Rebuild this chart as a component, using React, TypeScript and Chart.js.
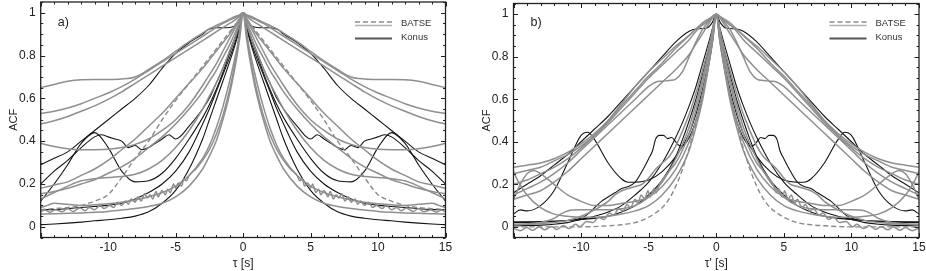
import React, { useEffect, useRef } from 'react';
import { Chart, registerables } from 'chart.js';

Chart.register(...registerables);

type Pair = [number, number];

// ---------- axis tick values ----------
const X_MIN = -15;
const X_MAX = 15;
const X_LABELS = [-10, -5, 0, 5, 10, 15];
const Y_MIN = -0.05;
const Y_MAX = 1.05;
const Y_LABELS = [0, 0.2, 0.4, 0.6, 0.8, 1];

// ---------- panel a) (values for tau >= 0; ACF is symmetric) ----------
const A_G1: Pair[] = [[0,1],[0.25,0.99],[0.5,0.985],[1,0.97],[1.5,0.955],[2,0.94],[2.5,0.925],[3,0.905],[4,0.865],[5,0.82],[6,0.775],[7,0.735],[8,0.7],[9,0.69],[10,0.688],[11,0.688],[12,0.687],[13,0.68],[14,0.665],[15,0.65]];
const A_G2: Pair[] = [[0,1],[0.25,0.99],[0.5,0.98],[1,0.965],[1.5,0.95],[2,0.93],[2.5,0.91],[3,0.89],[4,0.85],[5,0.81],[6,0.77],[7,0.73],[8,0.69],[9,0.655],[10,0.625],[11,0.6],[12,0.575],[13,0.555],[14,0.54],[15,0.53]];
const A_G3: Pair[] = [[0,1],[0.25,0.985],[0.5,0.97],[1,0.95],[1.5,0.93],[2,0.91],[2.5,0.89],[3,0.87],[4,0.83],[5,0.79],[6,0.75],[7,0.71],[8,0.67],[9,0.63],[10,0.595],[11,0.565],[12,0.54],[13,0.515],[14,0.495],[15,0.48]];
const A_G4: Pair[] = [[0,1],[0.25,0.97],[0.5,0.94],[1,0.88],[1.5,0.82],[2,0.76],[2.5,0.71],[3,0.66],[4,0.57],[5,0.5],[6,0.45],[7,0.41],[8,0.385],[9,0.37],[10,0.362],[11,0.36],[12,0.36],[13,0.365],[14,0.375],[15,0.39]];
const A_G5: Pair[] = [[0,1],[0.25,0.975],[0.5,0.95],[1,0.9],[1.5,0.86],[2,0.82],[2.5,0.78],[3,0.74],[4,0.67],[5,0.6],[6,0.53],[7,0.47],[8,0.41],[9,0.36],[10,0.31],[11,0.27],[12,0.24],[13,0.21],[14,0.195],[15,0.18]];
const A_G6: Pair[] = [[0,1],[0.25,0.95],[0.5,0.9],[1,0.82],[1.5,0.74],[2,0.67],[2.5,0.61],[3,0.55],[4,0.45],[5,0.37],[6,0.31],[7,0.27],[8,0.245],[9,0.235],[10,0.23],[11,0.225],[12,0.215],[13,0.19],[14,0.16],[15,0.13]];
const A_G7: Pair[] = [[0,1],[0.25,0.96],[0.5,0.92],[1,0.85],[1.5,0.79],[2,0.73],[2.5,0.68],[3,0.63],[4,0.55],[5,0.48],[6,0.42],[7,0.37],[8,0.32],[9,0.28],[10,0.25],[11,0.22],[12,0.2],[13,0.18],[14,0.165],[15,0.155]];
const A_G8: Pair[] = [[0,1],[0.25,0.9],[0.5,0.82],[1,0.68],[1.5,0.56],[2,0.46],[2.5,0.38],[3,0.32],[4,0.24],[5,0.19],[6,0.16],[7,0.14],[8,0.125],[9,0.115],[10,0.108],[11,0.103],[12,0.1],[13,0.105],[14,0.11],[14.5,0.1],[15,0.09]];
const A_G9: Pair[] = [[0,1],[0.25,0.88],[0.5,0.78],[1,0.62],[1.5,0.5],[2,0.4],[2.5,0.33],[3,0.27],[4,0.19],[5,0.14],[6,0.11],[7,0.095],[8,0.085],[9,0.078],[10,0.072],[11,0.068],[12,0.065],[13,0.063],[14,0.061],[15,0.06]];
const A_N1: Pair[] = [[0,1],[0.5,0.8],[1,0.64],[1.5,0.52],[2,0.43],[2.5,0.36],[3,0.31],[3.5,0.27],[4,0.24],[4.2,0.215],[4.4,0.225],[4.55,0.19],[4.8,0.205],[5,0.18],[5.15,0.2],[5.4,0.16],[5.6,0.175],[5.75,0.15],[6,0.17],[6.3,0.14],[6.45,0.165],[6.7,0.13],[6.9,0.15],[7.1,0.135],[7.3,0.155],[7.55,0.12],[7.8,0.14],[8,0.115],[8.3,0.13],[8.5,0.105],[8.7,0.12],[9,0.1],[9.3,0.115],[9.6,0.09],[9.9,0.1],[10.3,0.085],[10.6,0.1],[11,0.08],[11.4,0.09],[11.7,0.075],[12.1,0.088],[12.6,0.072],[13,0.085],[13.4,0.07],[13.9,0.08],[14.3,0.068],[14.7,0.078],[15,0.07]];
const A_D1: Pair[] = [[0,1],[0.25,0.97],[0.5,0.95],[1,0.91],[1.5,0.87],[2,0.83],[2.5,0.79],[3,0.75],[4,0.67],[5,0.59],[6,0.5],[7,0.4],[8,0.32],[9,0.23],[10,0.15],[11,0.12],[12,0.1],[13,0.09],[14,0.085],[15,0.08]];
const A_K1: Pair[] = [[0,1],[0.25,0.93],[0.5,0.87],[1,0.77],[1.5,0.68],[2,0.59],[2.5,0.5],[3,0.41],[4,0.27],[5,0.17],[6,0.11],[7,0.07],[8,0.05],[9,0.04],[10,0.033],[11,0.028],[12,0.022],[13,0.017],[14,0.013],[15,0.01]];
const A_K2: Pair[] = [[0,1],[0.25,0.94],[0.5,0.88],[1,0.79],[1.5,0.71],[2,0.63],[2.5,0.55],[3,0.48],[4,0.35],[5,0.26],[6,0.2],[7,0.16],[8,0.13],[9,0.11],[10,0.1],[11,0.095],[12,0.09],[13,0.085],[14,0.08],[15,0.08]];
const A_K3: Pair[] = [[0,1],[0.25,0.95],[0.5,0.9],[1,0.81],[1.5,0.72],[2,0.64],[2.5,0.57],[3,0.51],[4,0.41],[5,0.32],[6,0.25],[7,0.215],[8,0.21],[9,0.26],[10,0.37],[11,0.44],[12,0.39],[13,0.29],[14,0.2],[15,0.12]];
const A_K4: Pair[] = [[0,1],[0.25,0.95],[0.5,0.9],[1,0.82],[1.5,0.74],[2,0.67],[2.5,0.6],[3,0.55],[4,0.47],[5,0.41],[5.5,0.43],[6,0.41],[6.5,0.39],[7,0.37],[7.5,0.36],[8,0.38],[8.5,0.37],[9,0.4],[9.5,0.41],[10,0.42],[10.5,0.43],[11,0.42],[12,0.37],[13,0.31],[14,0.26],[15,0.2]];
const A_K5: Pair[] = [[0,1],[0.3,0.96],[0.7,0.935],[1.2,0.93],[2,0.93],[2.6,0.92],[3,0.9],[4,0.86],[5,0.81],[6,0.74],[7,0.66],[8,0.6],[9,0.55],[10,0.5],[11,0.45],[12,0.4],[13,0.35],[14,0.32],[15,0.29]];

// ---------- panel b) ----------
const B_G1: Pair[] = [[0,1],[0.25,0.99],[0.5,0.98],[1,0.96],[1.5,0.93],[2,0.9],[3,0.84],[4,0.77],[5,0.71],[6,0.64],[7,0.57],[8,0.5],[9,0.44],[10,0.39],[11,0.35],[12,0.32],[13,0.3],[14,0.29],[15,0.28]];
const B_G2: Pair[] = [[0,1],[0.25,0.99],[0.5,0.975],[1,0.95],[1.5,0.92],[2,0.88],[3,0.82],[4,0.76],[5,0.7],[6,0.63],[7,0.56],[8,0.49],[9,0.43],[10,0.38],[11,0.34],[12,0.31],[13,0.28],[14,0.265],[15,0.25]];
const B_G3: Pair[] = [[0,1],[0.25,0.99],[0.5,0.975],[1,0.95],[1.5,0.93],[2,0.9],[3,0.85],[4,0.79],[5,0.73],[6,0.66],[7,0.58],[8,0.5],[9,0.43],[10,0.37],[11,0.32],[12,0.28],[13,0.25],[14,0.22],[15,0.2]];
const B_G4: Pair[] = [[0,1],[0.25,0.99],[0.5,0.97],[1,0.93],[1.5,0.87],[2,0.8],[2.5,0.73],[3,0.695],[3.5,0.688],[4,0.685],[4.5,0.68],[5,0.66],[6,0.6],[7,0.54],[8,0.48],[9,0.42],[10,0.36],[11,0.3],[12,0.25],[13,0.21],[14,0.18],[15,0.15]];
const B_G5: Pair[] = [[0,1],[0.25,0.985],[0.5,0.96],[1,0.91],[1.5,0.86],[2,0.81],[3,0.74],[4,0.68],[5,0.62],[6,0.56],[7,0.5],[8,0.44],[9,0.38],[10,0.32],[11,0.26],[12,0.21],[13,0.17],[14,0.15],[15,0.13]];
const B_G6: Pair[] = [[0,1],[0.25,0.93],[0.5,0.86],[1,0.74],[1.5,0.63],[2,0.53],[2.5,0.45],[3,0.38],[3.5,0.33],[4,0.3],[4.5,0.27],[5,0.23],[5.5,0.2],[6,0.19],[6.5,0.18],[7,0.17],[7.5,0.15],[8,0.12],[9,0.08],[10,0.05],[11,0.03],[12,0.02],[13,0.015],[15,0.01]];
const B_G7: Pair[] = [[0,1],[0.25,0.9],[0.5,0.8],[1,0.63],[1.5,0.5],[2,0.4],[3,0.27],[4,0.19],[5,0.14],[6,0.12],[7,0.11],[8,0.1],[9,0.1],[10,0.12],[11,0.15],[12,0.2],[13,0.25],[13.5,0.265],[14,0.25],[14.5,0.2],[15,0.13]];
const B_G8: Pair[] = [[0,1],[0.25,0.88],[0.5,0.78],[1,0.6],[1.5,0.47],[2,0.36],[3,0.23],[4,0.15],[5,0.1],[6,0.075],[7,0.06],[8,0.05],[9,0.045],[10,0.045],[11,0.05],[12,0.06],[13,0.09],[14,0.15],[14.7,0.22],[15,0.26]];
const B_G9: Pair[] = [[0,1],[0.25,0.92],[0.5,0.84],[1,0.7],[1.5,0.58],[2,0.47],[3,0.32],[4,0.21],[5,0.14],[6,0.1],[7,0.085],[8,0.08],[9,0.08],[10,0.08],[11,0.075],[11.5,0.06],[12,0.04],[13,0.02],[15,0.01]];
const B_N1: Pair[] = [[0,1],[0.5,0.83],[1,0.68],[1.5,0.55],[2,0.44],[2.5,0.36],[3,0.3],[3.5,0.26],[4,0.22],[4.2,0.2],[4.45,0.16],[4.6,0.18],[4.9,0.14],[5.05,0.17],[5.3,0.13],[5.55,0.15],[5.8,0.11],[6.0,0.13],[6.35,0.09],[6.6,0.105],[6.9,0.075],[7.2,0.085],[7.6,0.055],[7.9,0.065],[8.3,0.035],[8.7,0.045],[9.1,0.02],[9.6,0.025],[10.1,0.0],[10.4,0.012],[10.9,-0.008],[11.3,0.006],[11.8,-0.012],[12.2,0.002],[12.7,-0.014],[13.1,0.0],[13.6,-0.016],[14.0,-0.003],[14.5,-0.018],[15,-0.006]];
const B_D1: Pair[] = [[0,1],[0.25,0.9],[0.5,0.8],[1,0.63],[1.5,0.49],[2,0.37],[2.5,0.27],[3,0.19],[3.5,0.13],[4,0.09],[4.5,0.065],[5,0.045],[6,0.02],[7,0.01],[8,0.005],[10,0.0],[15,0.0]];
const B_K1: Pair[] = [[0,1],[0.3,0.96],[0.7,0.935],[1.5,0.93],[2,0.92],[3,0.87],[4,0.8],[5,0.73],[6,0.66],[7,0.59],[8,0.52],[9,0.46],[10,0.4],[11,0.34],[12,0.29],[13,0.24],[14,0.2],[15,0.16]];
const B_K2: Pair[] = [[0,1],[0.25,0.9],[0.5,0.8],[1,0.65],[1.5,0.53],[2,0.44],[3,0.33],[4,0.26],[5,0.22],[6,0.21],[6.5,0.21],[7,0.225],[8,0.3],[9,0.41],[9.5,0.445],[10,0.43],[11,0.3],[12,0.17],[13,0.1],[14,0.075],[14.5,0.08],[15,0.06]];
const B_K3: Pair[] = [[0,1],[0.25,0.88],[0.5,0.78],[1,0.62],[1.5,0.5],[2,0.42],[2.5,0.38],[2.8,0.385],[3,0.4],[3.3,0.42],[3.6,0.415],[3.9,0.43],[4.2,0.43],[4.5,0.41],[4.7,0.36],[5,0.32],[5.5,0.26],[6,0.21],[6.5,0.19],[7,0.18],[7.5,0.16],[8,0.14],[8.5,0.12],[9,0.09],[9.5,0.06],[10,0.04],[11,0.03],[12,0.025],[15,0.02]];
const B_K4: Pair[] = [[0,1],[0.25,0.92],[0.5,0.85],[1,0.72],[1.5,0.6],[2,0.5],[2.5,0.41],[3,0.33],[4,0.22],[5,0.15],[6,0.1],[7,0.07],[8,0.05],[9,0.04],[10,0.035],[11,0.03],[12,0.027],[13,0.025],[15,0.024]];
const B_K5: Pair[] = [[0,1],[0.25,0.94],[0.5,0.88],[1,0.77],[1.5,0.66],[2,0.57],[2.5,0.49],[3,0.42],[4,0.3],[5,0.21],[6,0.15],[7,0.1],[8,0.07],[9,0.05],[10,0.035],[11,0.02],[12,0.012],[13,0.008],[15,0.005]];

type Kind = 'gray' | 'dash' | 'black';
type Series = { pts: Pair[]; kind: Kind };

const SERIES_A: Series[] = [
  { pts: A_G1, kind: 'gray' }, { pts: A_G2, kind: 'gray' }, { pts: A_G3, kind: 'gray' },
  { pts: A_G4, kind: 'gray' }, { pts: A_G5, kind: 'gray' }, { pts: A_G6, kind: 'gray' },
  { pts: A_G7, kind: 'gray' }, { pts: A_G8, kind: 'gray' }, { pts: A_G9, kind: 'gray' },
  { pts: A_N1, kind: 'gray' }, { pts: A_D1, kind: 'dash' },
  { pts: A_K1, kind: 'black' }, { pts: A_K2, kind: 'black' }, { pts: A_K3, kind: 'black' },
  { pts: A_K4, kind: 'black' }, { pts: A_K5, kind: 'black' },
];
const SERIES_B: Series[] = [
  { pts: B_G1, kind: 'gray' }, { pts: B_G2, kind: 'gray' }, { pts: B_G3, kind: 'gray' },
  { pts: B_G4, kind: 'gray' }, { pts: B_G5, kind: 'gray' }, { pts: B_G6, kind: 'gray' },
  { pts: B_G7, kind: 'gray' }, { pts: B_G8, kind: 'gray' }, { pts: B_G9, kind: 'gray' },
  { pts: B_N1, kind: 'gray' }, { pts: B_D1, kind: 'dash' },
  { pts: B_K1, kind: 'black' }, { pts: B_K2, kind: 'black' }, { pts: B_K3, kind: 'black' },
  { pts: B_K4, kind: 'black' }, { pts: B_K5, kind: 'black' },
];

const FONT = "'Liberation Sans', Arial, Helvetica, sans-serif";
const W = 463;
const H = 271;

const STYLE: Record<Kind, { color: string; width: number; dash: number[] }> = {
  gray: { color: '#8f8f8f', width: 1.5, dash: [] },
  dash: { color: '#8a8a8a', width: 1.4, dash: [5, 3] },
  black: { color: '#151515', width: 1.1, dash: [] },
};

function mirror(p: Pair[]) {
  const neg = p.slice(1).reverse().map(([t, v]) => ({ x: -t, y: v }));
  const pos = p.map(([t, v]) => ({ x: t, y: v }));
  return [...neg, ...pos];
}

type Geom = { left: number; right: number; top: number; bottom: number; tag: string; legendX: number; xTitle: string };

function makeChart(canvas: HTMLCanvasElement, series: Series[], g: Geom) {
  const deco = {
    id: 'deco',
    afterDraw(chart: any) {
      const ctx = chart.ctx as CanvasRenderingContext2D;
      const a = chart.chartArea;
      const xs = chart.scales.x;
      const ys = chart.scales.y;
      ctx.save();
      ctx.strokeStyle = '#222';
      ctx.lineWidth = 1;
      ctx.setLineDash([]);
      ctx.beginPath();
      for (const t of xs.ticks) {
        const px = Math.round(xs.getPixelForValue(t.value)) + 0.5;
        const major = Math.abs(t.value % 5) < 1e-6;
        const len = major ? 4.5 : 2.5;
        ctx.moveTo(px, a.bottom); ctx.lineTo(px, a.bottom - len);
        ctx.moveTo(px, a.top); ctx.lineTo(px, a.top + len);
      }
      for (const t of ys.ticks) {
        const py = Math.round(ys.getPixelForValue(t.value)) + 0.5;
        const major = Math.abs(t.value * 5 - Math.round(t.value * 5)) < 1e-6;
        const len = major ? 4.5 : 2.5;
        ctx.moveTo(a.left, py); ctx.lineTo(a.left + len, py);
        ctx.moveTo(a.right, py); ctx.lineTo(a.right - len, py);
      }
      ctx.stroke();
      ctx.lineWidth = 1.3;
      ctx.strokeRect(a.left, a.top, a.right - a.left, a.bottom - a.top);

      // panel tag
      ctx.fillStyle = '#222';
      ctx.font = `12.5px ${FONT}`;
      ctx.textAlign = 'left';
      ctx.textBaseline = 'middle';
      ctx.fillText(g.tag, a.left + 17, 23);

      // legend
      const lx = g.legendX;
      ctx.lineWidth = 1.3;
      ctx.strokeStyle = '#8a8a8a';
      ctx.setLineDash([5, 3]);
      ctx.beginPath(); ctx.moveTo(lx, 22); ctx.lineTo(lx + 37, 22); ctx.stroke();
      ctx.setLineDash([]);
      ctx.strokeStyle = '#b4b4b4';
      ctx.lineWidth = 1.6;
      ctx.beginPath(); ctx.moveTo(lx, 25.5); ctx.lineTo(lx + 37, 25.5); ctx.stroke();
      ctx.strokeStyle = '#555';
      ctx.lineWidth = 2;
      ctx.beginPath(); ctx.moveTo(lx, 38.5); ctx.lineTo(lx + 37, 38.5); ctx.stroke();
      ctx.font = `9.5px ${FONT}`;
      ctx.fillStyle = '#333';
      ctx.fillText('BATSE', lx + 46, 23.5);
      ctx.fillText('Konus', lx + 46, 37.5);
      ctx.restore();
    },
  };

  return new Chart(canvas, {
    type: 'line',
    data: {
      datasets: series.map((s) => ({
        data: mirror(s.pts),
        borderColor: STYLE[s.kind].color,
        borderWidth: STYLE[s.kind].width,
        borderDash: STYLE[s.kind].dash,
        pointRadius: 0,
        fill: false,
        cubicInterpolationMode: 'monotone' as const,
      })),
    },
    options: {
      responsive: false,
      animation: false,
      events: [],
      layout: { padding: { left: 0, top: g.top, right: W - g.right, bottom: 0 } },
      plugins: { legend: { display: false }, tooltip: { enabled: false } },
      scales: {
        x: {
          type: 'linear',
          min: X_MIN,
          max: X_MAX,
          grid: { display: false, drawTicks: false },
          border: { display: false },
          ticks: {
            stepSize: 1,
            autoSkip: false,
            maxRotation: 0,
            padding: 3,
            color: '#222',
            font: { family: FONT, size: 12 },
            callback: (v: any) => (X_LABELS.includes(Number(v)) ? String(v) : ''),
          },
          title: { display: true, text: g.xTitle, color: '#222', font: { family: FONT, size: 12 }, padding: { top: 0, bottom: 0.5 } },
          afterFit: (s: any) => { s.height = H - g.bottom; s.paddingLeft = 0; s.paddingRight = 0; },
        },
        y: {
          type: 'linear',
          min: Y_MIN,
          max: Y_MAX,
          grid: { display: false, drawTicks: false },
          border: { display: false },
          ticks: {
            stepSize: 0.05,
            autoSkip: false,
            padding: 5,
            color: '#222',
            font: { family: FONT, size: 12 },
            callback: (v: any) => {
              const n = Number(v);
              const hit = Y_LABELS.find((l) => Math.abs(l - n) < 1e-6);
              return hit === undefined ? '' : String(hit);
            },
          },
          title: { display: true, text: 'ACF', color: '#222', font: { family: FONT, size: 11 }, padding: { top: g.left - 33, bottom: 0 } },
          afterFit: (s: any) => { s.width = g.left; s.paddingTop = 0; s.paddingBottom = 0; },
        },
      },
    },
    plugins: [deco],
  } as any);
}

export default function App() {
  const refA = useRef<HTMLCanvasElement>(null);
  const refB = useRef<HTMLCanvasElement>(null);
  useEffect(() => {
    const ca = makeChart(refA.current!, SERIES_A, {
      left: 40.7, right: 445.5, top: 2, bottom: 237.5, tag: 'a)', legendX: 355, xTitle: 'τ [s]',
    });
    const cb = makeChart(refB.current!, SERIES_B, {
      left: 50.5, right: 456, top: 3.5, bottom: 237.5, tag: 'b)', legendX: 366.5, xTitle: "τ' [s]",
    });
    return () => { ca.destroy(); cb.destroy(); };
  }, []);
  return (
    <div style={{ position: 'absolute', left: 0, top: 0, width: 926, height: 271, background: '#fff' }}>
      <canvas ref={refA} width={W} height={H} style={{ position: 'absolute', left: 0, top: 0 }} />
      <canvas ref={refB} width={W} height={H} style={{ position: 'absolute', left: W, top: 0 }} />
    </div>
  );
}
